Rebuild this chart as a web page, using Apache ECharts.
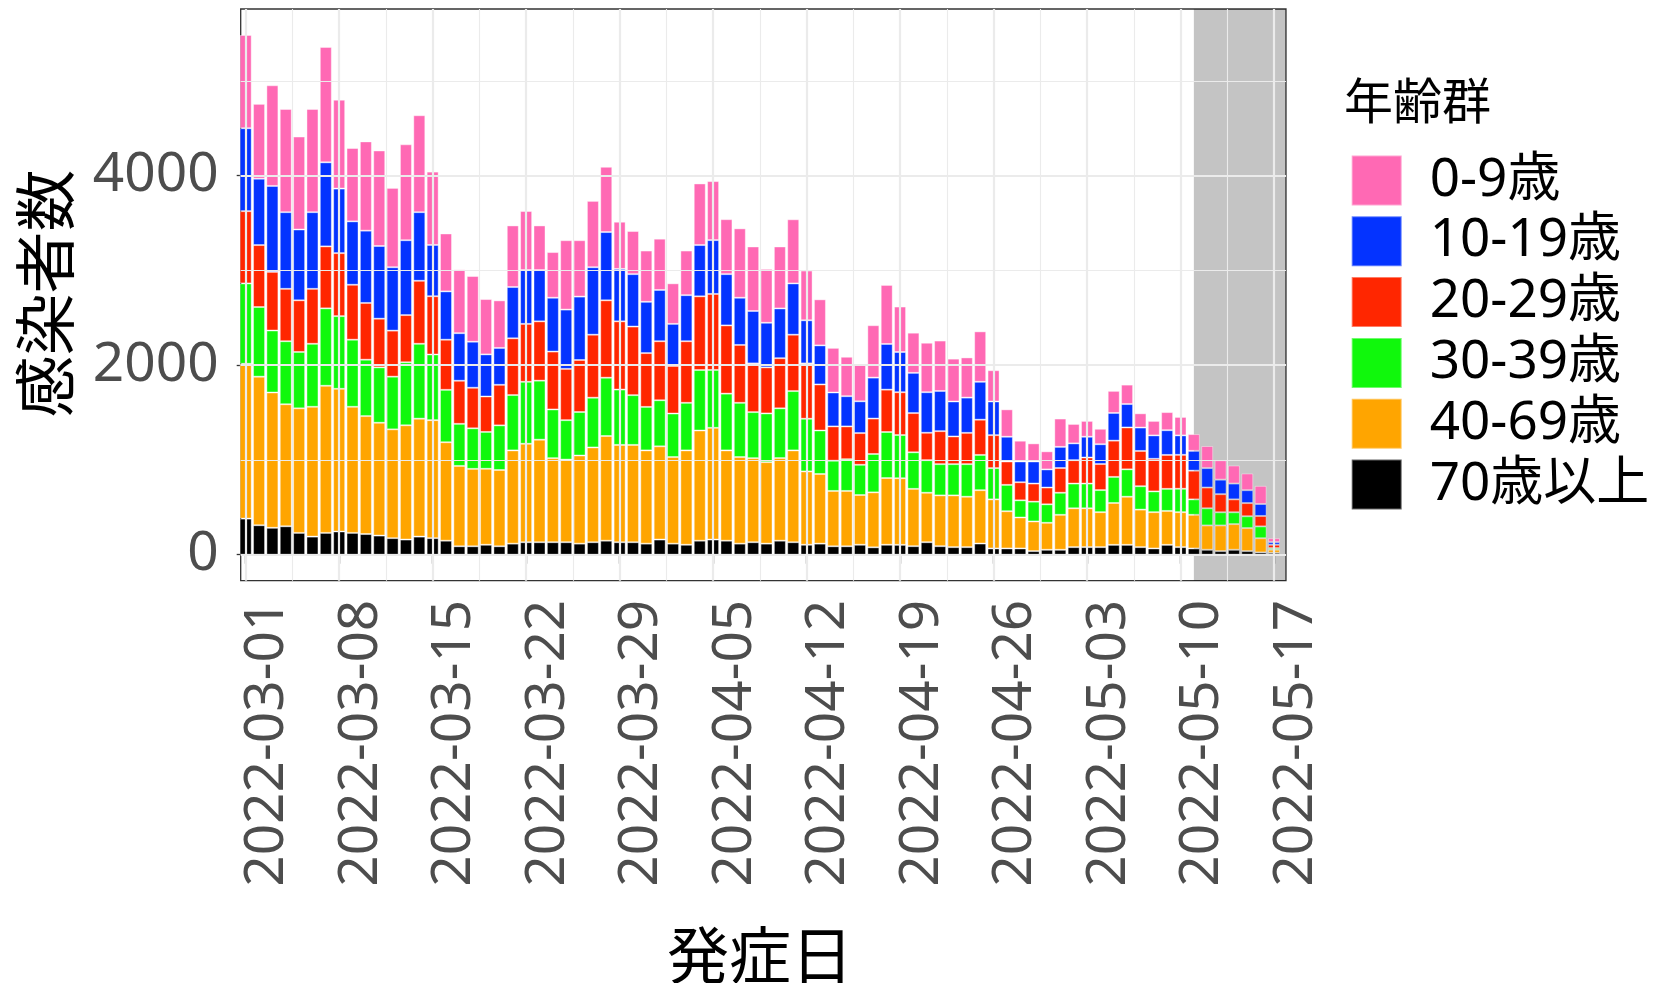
<!DOCTYPE html>
<html>
<head>
<meta charset="utf-8">
<script src="https://cdn.jsdelivr.net/npm/echarts@6/dist/echarts.min.js"></script>
<style>
  html, body { margin: 0; padding: 0; background: #ffffff; }
  #chart { width: 1658px; height: 983px; }
</style>
</head>
<body>
<div id="chart"></div>
<script>
// 発症日 (onset date), one entry per bar
const days = [
  '2022-03-01','2022-03-02','2022-03-03','2022-03-04','2022-03-05','2022-03-06','2022-03-07',
  '2022-03-08','2022-03-09','2022-03-10','2022-03-11','2022-03-12','2022-03-13','2022-03-14',
  '2022-03-15','2022-03-16','2022-03-17','2022-03-18','2022-03-19','2022-03-20','2022-03-21',
  '2022-03-22','2022-03-23','2022-03-24','2022-03-25','2022-03-26','2022-03-27','2022-03-28',
  '2022-03-29','2022-03-30','2022-03-31','2022-04-01','2022-04-02','2022-04-03','2022-04-04',
  '2022-04-05','2022-04-06','2022-04-07','2022-04-08','2022-04-09','2022-04-10','2022-04-11',
  '2022-04-12','2022-04-13','2022-04-14','2022-04-15','2022-04-16','2022-04-17','2022-04-18',
  '2022-04-19','2022-04-20','2022-04-21','2022-04-22','2022-04-23','2022-04-24','2022-04-25',
  '2022-04-26','2022-04-27','2022-04-28','2022-04-29','2022-04-30','2022-05-01','2022-05-02',
  '2022-05-03','2022-05-04','2022-05-05','2022-05-06','2022-05-07','2022-05-08','2022-05-09',
  '2022-05-10','2022-05-11','2022-05-12','2022-05-13','2022-05-14','2022-05-15','2022-05-16',
  '2022-05-17'
];

// x-axis tick labels (weekly)
const tickLabels = [
  '2022-03-01','2022-03-08','2022-03-15','2022-03-22','2022-03-29','2022-04-05',
  '2022-04-12','2022-04-19','2022-04-26','2022-05-03','2022-05-10','2022-05-17'
];
// y-axis tick labels and minor grid values
const yTicks = [0, 2000, 4000];
const yMinorLines = [1000, 3000, 5000];

// first day of the shaded (still incomplete) period
const shadeFrom = '2022-05-11';

// daily cases per age group
const age0_9 = [
  984, 790, 1062, 1089, 981, 1089, 1218, 938, 774, 942,
  1008, 837, 1012, 1023, 774, 611, 673, 693, 584, 502,
  650, 623, 471, 482, 732, 595, 700, 689, 498, 455,
  541, 541, 428, 471, 650, 623, 580, 732, 681, 568,
  654, 677, 525, 486, 471, 416, 385, 553, 623, 480,
  424, 522, 532, 452, 424, 532, 330, 289, 219, 191,
  191, 299, 205, 167, 163, 233, 205, 150, 153, 191,
  195, 177, 233, 205, 191, 177, 192, 42
];
const age10_19 = [
  875, 700, 907, 809, 747, 809, 887, 681, 669, 763,
  767, 669, 790, 724, 541, 510, 502, 486, 444, 389,
  541, 568, 541, 568, 626, 669, 712, 720, 553, 553,
  541, 541, 444, 486, 541, 568, 541, 498, 553, 471,
  525, 541, 455, 412, 358, 319, 335, 432, 482, 424,
  424, 428, 424, 369, 372, 400, 355, 261, 219, 233,
  191, 223, 177, 219, 209, 292, 247, 247, 247, 261,
  205, 209, 205, 153, 167, 136, 126, 28
];
const age20_29 = [
  763, 654, 619, 553, 545, 580, 654, 665, 580, 599,
  514, 486, 498, 665, 615, 529, 455, 428, 374, 428,
  599, 611, 626, 611, 541, 549, 665, 817, 720, 724,
  568, 623, 502, 650, 778, 802, 720, 611, 514, 486,
  529, 595, 584, 486, 362, 346, 335, 374, 447, 452,
  414, 289, 348, 292, 330, 372, 348, 247, 191, 191,
  177, 261, 247, 275, 275, 383, 442, 372, 344, 358,
  358, 303, 219, 191, 136, 139, 110, 35
];
const age30_39 = [
  848, 735, 654, 665, 595, 665, 817, 767, 708, 595,
  584, 556, 665, 790, 693, 553, 444, 428, 389, 471,
  584, 654, 623, 514, 416, 459, 525, 615, 584, 525,
  459, 486, 459, 502, 638, 611, 599, 572, 486, 514,
  525, 626, 556, 459, 319, 335, 319, 405, 486, 456,
  386, 344, 330, 330, 344, 372, 330, 278, 181, 209,
  195, 233, 261, 261, 233, 275, 289, 247, 219, 233,
  247, 163, 181, 139, 125, 125, 125, 17
];
const age40_69 = [
  1634, 1568, 1428, 1288, 1315, 1370, 1553, 1506, 1331, 1245,
  1191, 1148, 1206, 1245, 1245, 1039, 848, 817, 802, 805,
  984, 1039, 1082, 887, 872, 930, 1000, 1105, 1027, 1027,
  984, 984, 914, 996, 1163, 1179, 953, 914, 887, 860,
  872, 969, 774, 735, 584, 584, 525, 580, 704, 703,
  605, 522, 536, 546, 532, 563, 518, 393, 327, 313,
  285, 369, 410, 410, 369, 442, 508, 396, 383, 358,
  369, 355, 257, 271, 271, 243, 150, 33
];
const age70plus = [
  381, 311, 284, 300, 230, 191, 230, 245, 230, 218,
  202, 175, 160, 191, 175, 148, 89, 89, 105, 89,
  117, 132, 132, 132, 132, 117, 132, 148, 132, 132,
  117, 160, 117, 105, 148, 160, 148, 117, 132, 117,
  148, 132, 105, 117, 89, 89, 105, 78, 105, 104,
  90, 132, 90, 80, 80, 118, 66, 66, 66, 38,
  52, 52, 80, 80, 80, 104, 104, 80, 66, 104,
  80, 66, 52, 38, 52, 38, 24, 20
];

// stacking order: bottom first
const groups = [
  { name: '70歳以上', values: age70plus, color: '#000000' },
  { name: '40-69歳', values: age40_69, color: '#FFA500' },
  { name: '30-39歳', values: age30_39, color: '#10F80C' },
  { name: '20-29歳', values: age20_29, color: '#FF2600' },
  { name: '10-19歳', values: age10_19, color: '#0433FF' },
  { name: '0-9歳', values: age0_9, color: '#FF69B4' }
];

const totals = days.map((d, i) => groups.reduce((s, g) => s + g.values[i], 0));
const maxTotal = Math.max(...totals);
const yMin = -0.05 * maxTotal;
const yMax = 1.05 * maxTotal;
// horizontal extent of the panel, in days from the first bar
const xMin = -0.374;
const xMax = 77.9;

const tickIdx = tickLabels.map(l => days.indexOf(l));
const minorIdx = tickIdx.slice(0, -1).map(i => i + 3.5);

const NUM_FONT = '"Noto Sans", "Noto Sans CJK JP", sans-serif';
const JP_FONT = '"Noto Sans CJK JP", "Noto Sans", sans-serif';
const GRID_COLOR = '#ebebeb';

const gridLines = []
  .concat(tickIdx.map(v => ({ xAxis: v, lineStyle: { width: 2.2 } })))
  .concat(minorIdx.map(v => ({ xAxis: v, lineStyle: { width: 1.1 } })))
  .concat(yTicks.map(v => ({ yAxis: v, lineStyle: { width: 2.2 } })))
  .concat(yMinorLines.map(v => ({ yAxis: v, lineStyle: { width: 1.1 } })));

// each data item is [count, dayIndex]; the count comes first so it is the stacked dimension
const barSeries = groups.map(g => ({
  name: g.name,
  type: 'bar',
  stack: 'total',
  barWidth: 12,
  z: 3,
  encode: { x: 1, y: 0 },
  itemStyle: {
    color: g.color,
    borderColor: 'rgba(255,255,255,0.4)',
    borderWidth: 1
  },
  data: g.values.map((v, i) => [v, i])
}));

const chart = echarts.init(document.getElementById('chart'), null, { renderer: 'canvas' });

chart.setOption({
  animation: false,
  backgroundColor: '#ffffff',
  grid: {
    left: 240.7,
    top: 9,
    width: 1045.3,
    height: 571.7,
    show: true,
    backgroundColor: '#ffffff',
    borderColor: '#333333',
    borderWidth: 1.3
  },
  xAxis: {
    type: 'value',
    min: xMin,
    max: xMax,
    axisLine: { show: false },
    splitLine: { show: false },
    axisTick: {
      show: true,
      length: 9,
      customValues: tickIdx,
      lineStyle: { color: '#333333', width: 1.3 }
    },
    axisLabel: {
      customValues: tickIdx,
      rotate: 90,
      margin: 19,
      fontSize: 55,
      fontFamily: NUM_FONT,
      color: '#4d4d4d',
      verticalAlign: 'top',
      lineHeight: 44,
      formatter: v => days[Math.round(v)]
    }
  },
  yAxis: {
    type: 'value',
    min: yMin,
    max: yMax,
    axisLine: { show: false },
    splitLine: { show: false },
    axisTick: {
      show: true,
      length: 9,
      customValues: yTicks,
      lineStyle: { color: '#333333', width: 1.3 }
    },
    axisLabel: {
      customValues: yTicks,
      margin: 22,
      fontSize: 55,
      fontFamily: NUM_FONT,
      color: '#4d4d4d',
      padding: [7, 0, 0, 0],
      formatter: v => String(v)
    }
  },
  legend: {
    data: ['0-9歳', '10-19歳', '20-29歳', '30-39歳', '40-69歳', '70歳以上'],
    orient: 'vertical',
    left: 1350.7,
    top: 154,
    padding: 0,
    itemWidth: 50,
    itemHeight: 50,
    itemGap: 7.8,
    icon: 'rect',
    selectedMode: false,
    textStyle: {
      fontSize: 53,
      lineHeight: 50,
      fontFamily: NUM_FONT,
      color: '#000000',
      padding: [0, 0, 0, 23]
    }
  },
  graphic: [
    {
      type: 'text',
      x: 1344,
      y: 100.5,
      style: {
        text: '年齢群',
        font: '49px ' + JP_FONT,
        fill: '#000000',
        align: 'left', verticalAlign: 'middle',
        textAlign: 'left', textVerticalAlign: 'middle'
      }
    },
    {
      type: 'text',
      x: 760,
      y: 955,
      style: {
        text: '発症日',
        font: '62px ' + JP_FONT,
        fill: '#000000',
        align: 'center', verticalAlign: 'middle',
        textAlign: 'center', textVerticalAlign: 'middle'
      }
    },
    {
      type: 'text',
      x: 45,
      y: 293.5,
      rotation: Math.PI / 2,
      style: {
        text: '感染者数',
        font: '62px ' + JP_FONT,
        fill: '#000000',
        align: 'center', verticalAlign: 'middle',
        textAlign: 'center', textVerticalAlign: 'middle'
      }
    }
  ],
  series: [
    {
      // panel grid lines, drawn beneath the bars
      name: 'grid',
      type: 'line',
      data: [],
      z: 1,
      silent: true,
      markLine: {
        silent: true,
        symbol: 'none',
        label: { show: false },
        lineStyle: { color: GRID_COLOR, type: 'solid' },
        data: gridLines
      }
    },
    ...barSeries,
    {
      // shaded period on top of the bars
      name: 'shade',
      type: 'line',
      data: [],
      z: 10,
      silent: true,
      markArea: {
        silent: true,
        itemStyle: { color: 'rgba(0,0,0,0.23)' },
        data: [[
          { xAxis: days.indexOf(shadeFrom), yAxis: yMin },
          { xAxis: xMax, yAxis: yMax }
        ]]
      }
    }
  ]
});
</script>
</body>
</html>
